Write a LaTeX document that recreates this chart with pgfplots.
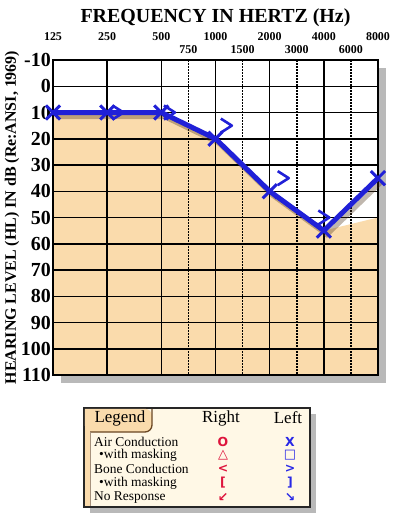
\documentclass[border=0pt]{standalone}
\usepackage{fontspec}
\setmainfont{Liberation Serif}
\newfontfamily\symfont{DejaVu Sans}
\usepackage{pgfplots}
\pgfplotsset{compat=1.18}
\usetikzlibrary{shadows}

\definecolor{peach}{RGB}{250,219,172}
\definecolor{lineblue}{RGB}{32,32,215}
\definecolor{legbg}{RGB}{255,248,230}
\definecolor{legred}{RGB}{222,20,60}
\definecolor{legblue}{RGB}{40,40,230}
\definecolor{tabbrown}{RGB}{105,70,35}

\pgfdeclareplotmark{boneleft}{%
  \pgfpathmoveto{\pgfqpoint{-0.55\pgfplotmarksize}{0.7\pgfplotmarksize}}%
  \pgfpathlineto{\pgfqpoint{0.55\pgfplotmarksize}{0pt}}%
  \pgfpathlineto{\pgfqpoint{-0.55\pgfplotmarksize}{-0.7\pgfplotmarksize}}%
  \pgfusepathqstroke}

\pgfplotsset{audio/.style={
  at={(53bp,-60bp)}, anchor=north west,
  scale only axis, width=325bp, height=315bp,
  xmin=0, xmax=6, ymin=-10, ymax=110, y dir=reverse,
  clip=false}}

\begin{document}
\begin{tikzpicture}
\path[use as bounding box] (0,0) rectangle (397bp,-523bp);
% chart background with shadow
\fill[white, drop shadow={shadow xshift=8bp, shadow yshift=-8bp, fill=black!50, opacity=0.55}] (53bp,-60bp) rectangle (378bp,-375bp);

% fill region (hearing loss area)
\begin{axis}[audio, hide axis]
\addplot[fill=peach, draw=none] coordinates {(0,10) (1,10) (2,10) (3,20) (4,40) (5,55) (6,50) (6,110) (0,110)} -- cycle;
\end{axis}

\begin{axis}[audio,
  xtick={0,1,2,3,4,5,6},
  xticklabels={125,250,500,1000,2000,4000,8000},
  xticklabel pos=right,
  ytick={-10,0,10,20,30,40,50,60,70,80,90,100,110},
  yticklabels={-10,0,10,20,30,40,50,60,70,80,90,100,110},
  major tick length=0pt,
  grid=major,
  major grid style={black, line width=1.5bp},
  axis line style={black, line width=2.2bp},
  xticklabel style={font=\bfseries\fontsize{12}{12}\selectfont, anchor=center, yshift=23bp, inner sep=0pt},
  yticklabel style={font=\bfseries\fontsize{20}{20}\selectfont, anchor=east, inner sep=0pt, xshift=-2bp},
  extra x ticks={2.5,3.5,4.5,5.5},
  extra x tick labels={750,1500,3000,6000},
  extra x tick style={grid=major, major grid style={black, line width=1.6bp, dash pattern=on 1.6bp off 1.4bp}, xticklabel style={yshift=-13bp}},
]
% shadow of the audiogram line
\addplot[black!60!brown, opacity=0.35, line width=5bp, transform canvas={xshift=3bp, yshift=-4bp}, forget plot]
  coordinates {(0,10) (1,10) (2,10) (3,20) (4,40) (5,55) (6,35)};
% left ear, bone conduction
\addplot[only marks, mark=boneleft, mark size=10bp, lineblue, mark options={line width=2.6bp, line join=round}]
  coordinates {(1.2,10) (2.15,10) (3.2,15) (4.25,35) (5.0,50)};
% left ear, air conduction
\addplot[lineblue, line width=5bp, line join=round, mark=x, mark size=10bp, mark options={line width=3bp}]
  coordinates {(0,10) (1,10) (2,10) (3,20) (4,40) (5,55) (6,35)};
\end{axis}

\node[font=\bfseries\fontsize{20}{20}\selectfont] at (215.5bp,-18bp) {FREQUENCY IN HERTZ (Hz)};
\node[font=\bfseries\fontsize{16}{16}\selectfont, rotate=90] at (12bp,-217.5bp) {HEARING LEVEL (HL) IN dB (Re:ANSI, 1969)};

% legend box
\draw[line width=1.5bp, draw=black!85, fill=legbg, drop shadow={shadow xshift=6bp, shadow yshift=-6bp, fill=black!50, opacity=0.55}] (84bp,-408bp) rectangle (310bp,-507bp);
\fill[peach] (84.8bp,-408.8bp) rectangle (90bp,-506.2bp);
\fill[peach, rounded corners=7bp] (84.8bp,-408.8bp) -- (152bp,-408.8bp) -- (152bp,-432bp) -- (84.8bp,-432bp) [sharp corners] -- cycle;
\draw[tabbrown, line width=1.3bp, rounded corners=7bp] (152bp,-408.8bp) -- (152bp,-432bp) -- (90bp,-432bp);
\draw[tabbrown!60, line width=0.6bp] (90bp,-432bp) -- (90bp,-506.2bp);
\fill[peach] (84.8bp,-430bp) rectangle (89.7bp,-434bp);

\node[font=\fontsize{17}{17}\selectfont] at (120bp,-418bp) {Legend};
\node[font=\fontsize{17}{17}\selectfont] at (221bp,-418bp) {Right};
\node[font=\fontsize{17}{17}\selectfont] at (288bp,-418bp) {Left};

\begin{scope}[every node/.style={font=\fontsize{13.5}{13.5}\selectfont, anchor=west, inner sep=0pt}]
\node at (94bp,-441.5bp) {Air Conduction};
\node at (99bp,-455.5bp) {•with masking};
\node at (94bp,-469bp) {Bone Conduction};
\node at (99bp,-483bp) {•with masking};
\node at (94bp,-497.5bp) {No Response};
\end{scope}

\begin{scope}[every node/.style={font=\symfont\bfseries\fontsize{12.5}{12.5}\selectfont, inner sep=0pt}]
\node[legred] at (223bp,-442bp) {O};
\node[legred] at (223bp,-455.5bp) {\fontsize{13}{13}\selectfont△};
\node[legred] at (223bp,-469bp) {<};
\node[legred] at (223bp,-483bp) {[};
\node[legred] at (223bp,-497.5bp) {↙};
\node[legblue] at (290bp,-442bp) {X};
\node[legblue] at (290bp,-455.5bp) {\fontsize{13}{13}\selectfont□};
\node[legblue] at (290bp,-469bp) {>};
\node[legblue] at (290bp,-483bp) {]};
\node[legblue] at (290bp,-497.5bp) {↘};
\end{scope}
\end{tikzpicture}
\end{document}
